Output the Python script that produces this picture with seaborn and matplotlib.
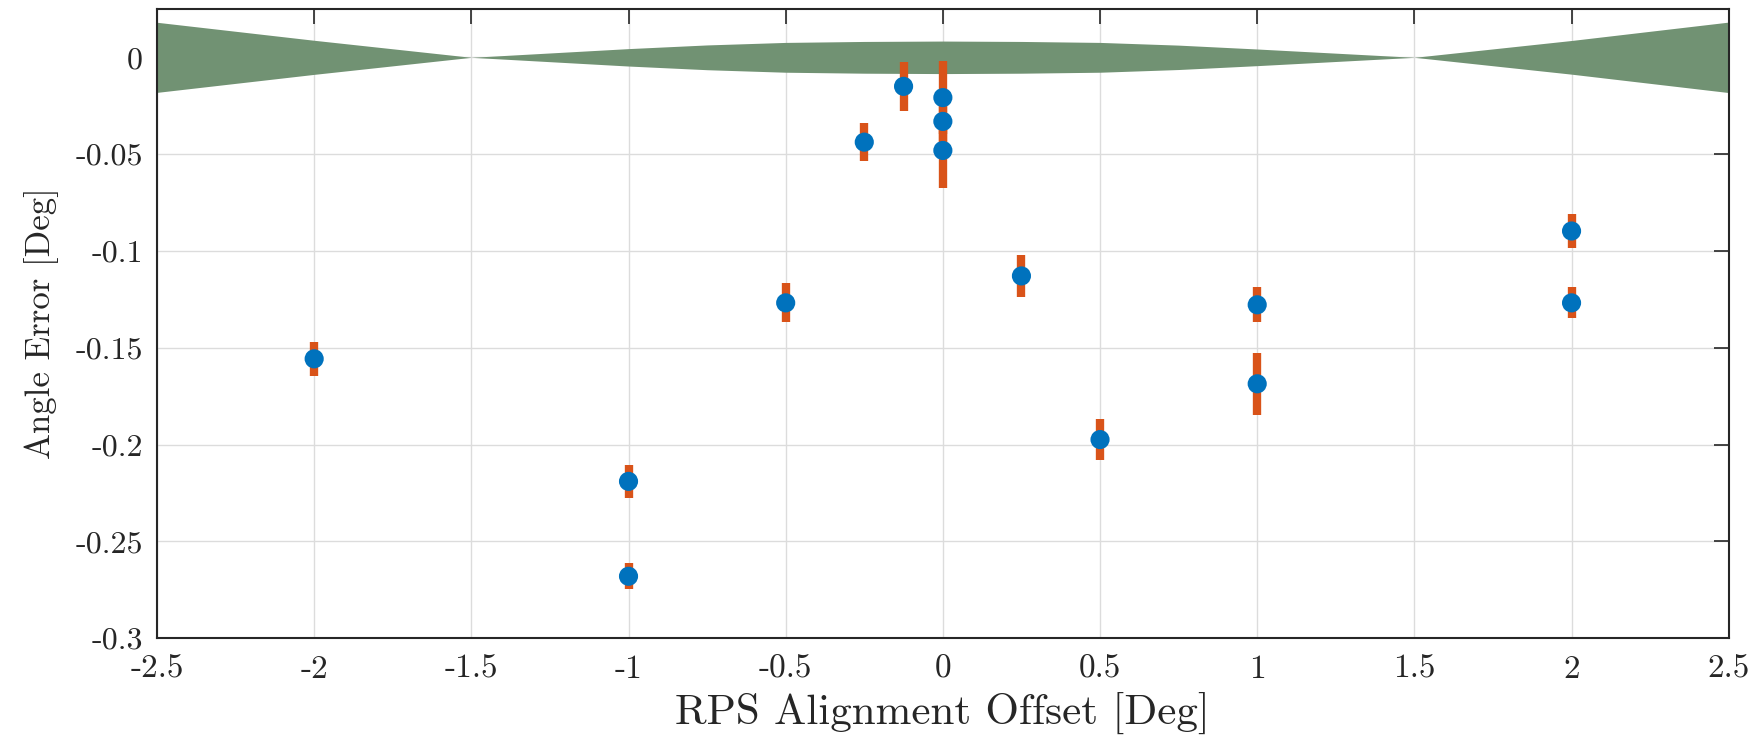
import numpy as np
import pandas as pd
import matplotlib
matplotlib.use("Agg")
import matplotlib.pyplot as plt
import seaborn as sns

# ---- data ----
offset_x = [-2.0, -1.0, -1.0, -0.5, -0.25, -0.125, 0.0, 0.0, 0.0, 0.25, 0.5, 1.0, 1.0, 2.0, 2.0]
angle_err = [-0.1557, -0.2190, -0.2680, -0.1268, -0.0438, -0.0150, -0.0208, -0.0331, -0.0481,
             -0.1129, -0.1974, -0.1278, -0.1686, -0.0897, -0.1268]
err_half = [0.0087, 0.0087, 0.0067, 0.0100, 0.0097, 0.0125, 0.0188, 0.0120, 0.0195,
            0.0110, 0.0105, 0.0090, 0.0160, 0.0090, 0.0080]

band_x = [-2.5, -2.0, -1.5, -1.0, -0.75, -0.5, -0.25, 0.0, 0.25, 0.5, 0.75, 1.0, 1.5, 2.0, 2.5]
band_half = [0.0181, 0.0088, 0.0, 0.0045, 0.0064, 0.0077, 0.0082, 0.0084, 0.0082, 0.0077, 0.0063, 0.0043, 0.0, 0.0087, 0.0182]

xticks = [-2.5, -2, -1.5, -1, -0.5, 0, 0.5, 1, 1.5, 2, 2.5]
xtick_labels = ["-2.5", "-2", "-1.5", "-1", "-0.5", "0", "0.5", "1", "1.5", "2", "2.5"]
yticks = [-0.3, -0.25, -0.2, -0.15, -0.1, -0.05, 0]
ytick_labels = ["-0.3", "-0.25", "-0.2", "-0.15", "-0.1", "-0.05", "0"]

x_label = "RPS Alignment Offset [Deg]"
y_label = "Angle Error [Deg]"

# ---- style ----
sns.set_theme(style="white")
plt.rcParams["font.family"] = ["cmr10", "DejaVu Serif"]
plt.rcParams["axes.unicode_minus"] = False
plt.rcParams["axes.formatter.use_mathtext"] = True

text_col = "#262626"
band_col = "#719273"
bar_col = "#D95319"
pt_col = "#0072BD"

df = pd.DataFrame({"x": offset_x, "y": angle_err, "e": err_half})
band = pd.DataFrame({"x": band_x, "h": band_half})

fig = plt.figure(figsize=(17.64, 7.43), dpi=100)
ax = fig.add_axes([0.089, 0.141, 0.891, 0.847])

ax.fill_between(band["x"], -band["h"], band["h"], color=band_col, linewidth=0, zorder=2)
ax.errorbar(df["x"], df["y"], yerr=df["e"], fmt="none", ecolor=bar_col,
            elinewidth=6, capsize=0, zorder=3)
sns.scatterplot(data=df, x="x", y="y", ax=ax, color=pt_col, s=190,
                edgecolor="none", linewidth=0, zorder=4, legend=False)

ax.set_xlim(-2.5, 2.5)
ax.set_ylim(-0.3, 0.025)
ax.set_xticks(xticks)
ax.set_xticklabels(xtick_labels)
ax.set_yticks(yticks)
ax.set_yticklabels(ytick_labels)

ax.grid(True, color="#dcdcdc", linewidth=1.0, zorder=0)
ax.set_axisbelow(True)

ax.tick_params(axis="both", direction="in", length=11, width=1.2, color=text_col,
               labelsize=23, labelcolor=text_col, top=True, right=True,
               labeltop=False, labelright=False)
ax.tick_params(axis="x", pad=12, labelsize=24)
ax.tick_params(axis="y", pad=10)
for sp in ax.spines.values():
    sp.set_visible(True)
    sp.set_color(text_col)
    sp.set_linewidth(1.5)

ax.set_xlabel(x_label, fontsize=31, color=text_col, labelpad=6)
ax.set_ylabel(y_label, fontsize=25, color=text_col, labelpad=12)

fig.savefig("out.png", dpi=100, facecolor="white")
